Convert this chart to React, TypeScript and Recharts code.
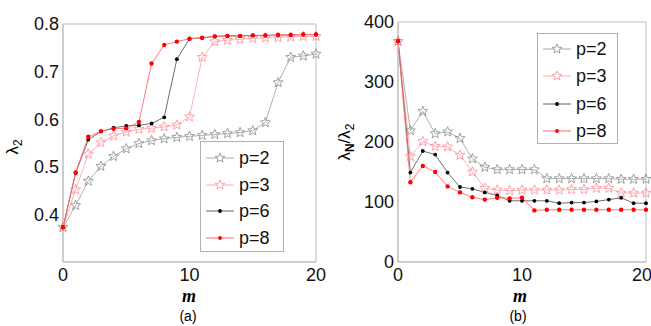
import React from 'react';
import { LineChart, Line, XAxis, YAxis, ReferenceArea } from 'recharts';

const mValues = [0, 1, 2, 3, 4, 5, 6, 7, 8, 9, 10, 11, 12, 13, 14, 15, 16, 17, 18, 19, 20];

// (a) lambda_2
const p2A = [0.373, 0.419, 0.470, 0.501, 0.522, 0.538, 0.549, 0.555, 0.559, 0.562, 0.564, 0.566, 0.568, 0.570, 0.572, 0.576, 0.593, 0.677, 0.730, 0.733, 0.737];
const p3A = [0.373, 0.452, 0.527, 0.551, 0.565, 0.573, 0.579, 0.581, 0.584, 0.588, 0.605, 0.730, 0.763, 0.766, 0.768, 0.770, 0.771, 0.772, 0.773, 0.774, 0.774];
const p6A = [0.373, 0.487, 0.557, 0.574, 0.582, 0.586, 0.587, 0.591, 0.604, 0.726, 0.769, 0.771, 0.774, 0.775, 0.775, 0.776, 0.776, 0.777, 0.777, 0.778, 0.778];
const p8A = [0.373, 0.488, 0.563, 0.575, 0.580, 0.581, 0.594, 0.717, 0.756, 0.763, 0.769, 0.771, 0.774, 0.775, 0.775, 0.776, 0.776, 0.777, 0.777, 0.778, 0.778];

// (b) lambda_N / lambda_2
const p2B = [368, 219, 251, 214, 217, 206, 172, 158, 154, 154, 154, 154, 139, 139, 139, 139, 139, 139, 138, 138, 138];
const p3B = [368, 176, 201, 193, 192, 178, 150, 123, 120, 119, 120, 120, 120, 120, 121, 121, 123, 123, 115, 115, 115];
const p6B = [368, 149, 185, 179, 149, 125, 122, 116, 111, 102, 102, 102, 102, 98, 99, 99, 101, 104, 107, 98, 98];
const p8B = [368, 133, 160, 150, 126, 116, 108, 104, 107, 106, 107, 86, 87, 87, 87, 87, 87, 87, 87, 87, 87];

const seriesNames = ['p=2', 'p=3', 'p=6', 'p=8'];
const xTicks = [0, 10, 20];
const yTicksA = [0.4, 0.5, 0.6, 0.7, 0.8];
const yTicksB = [0, 100, 200, 300, 400];

const buildRows = (a: number[], b: number[], c: number[], d: number[]) =>
  mValues.map((m, i) => ({ m, p2: a[i], p3: b[i], p6: c[i], p8: d[i] }));

const rowsA = buildRows(p2A, p3A, p6A, p8A);
const rowsB = buildRows(p2B, p3B, p6B, p8B);

const starPoints = (cx: number, cy: number, R: number, r: number) => {
  const pts: string[] = [];
  for (let k = 0; k < 10; k++) {
    const ang = -Math.PI / 2 + (k * Math.PI) / 5;
    const rad = k % 2 === 0 ? R : r;
    pts.push(`${(cx + rad * Math.cos(ang)).toFixed(2)},${(cy + rad * Math.sin(ang)).toFixed(2)}`);
  }
  return pts.join(' ');
};

const makeStar = (color: string) => (props: any) => {
  const { cx, cy, index } = props;
  if (cx == null || cy == null) return <g key={`s${index}`} />;
  return <polygon key={`s${index}`} points={starPoints(cx, cy, 5.2, 2.3)} fill="none" stroke={color} strokeWidth={0.8} />;
};

const makeDot = (color: string, r: number) => (props: any) => {
  const { cx, cy, index } = props;
  if (cx == null || cy == null) return <g key={`d${index}`} />;
  return <circle key={`d${index}`} cx={cx} cy={cy} r={r} fill={color} stroke="none" />;
};

const styles = [
  { key: 'p2', line: '#a8a8a8', mark: '#8a8a8a', kind: 'star' },
  { key: 'p3', line: '#ffa8b0', mark: '#ff8a94', kind: 'star' },
  { key: 'p6', line: '#606060', mark: '#000000', kind: 'dot' },
  { key: 'p8', line: '#ff6a6a', mark: '#ff0000', kind: 'dot' },
];

const tickStyle = { fontFamily: '"Liberation Sans", Arial, sans-serif', fontSize: 18, fill: '#111' };

const renderLines = () =>
  styles.map((s) => (
    <Line
      key={s.key}
      dataKey={s.key}
      type="linear"
      stroke={s.line}
      strokeWidth={0.9}
      isAnimationActive={false}
      dot={s.kind === 'star' ? makeStar(s.mark) : makeDot(s.mark, s.key === 'p8' ? 2.2 : 1.9)}
      activeDot={false}
    />
  ));

const LegendBox = ({ left, top, width, height, spacing, first }: any) => (
  <div
    style={{
      position: 'absolute', left, top, width, height, boxSizing: 'border-box',
      border: '1px solid #b0b0b0', background: '#fff',
    }}
  >
    {styles.map((s, i) => (
      <div key={s.key} style={{ position: 'absolute', left: 5, top: first + i * spacing - 10, height: 20, display: 'flex', alignItems: 'center' }}>
        <svg width={28} height={20}>
          <line x1={0} y1={10} x2={28} y2={10} stroke={s.line} strokeWidth={1} />
          {s.kind === 'star' ? (
            <polygon points={starPoints(14, 10, 5, 2.2)} fill="#fff" stroke={s.mark} strokeWidth={0.8} />
          ) : (
            <circle cx={14} cy={10} r={1.9} fill={s.mark} />
          )}
        </svg>
        <span style={{ marginLeft: 5, fontFamily: '"Liberation Sans", Arial, sans-serif', fontSize: 18, color: '#111', lineHeight: '20px' }}>
          {seriesNames[i]}
        </span>
      </div>
    ))}
  </div>
);

const Txt = ({ x, y, children, style }: any) => (
  <div style={{ position: 'absolute', left: x, top: y, transform: 'translate(-50%, -50%)', whiteSpace: 'nowrap', lineHeight: 1, ...style }}>
    {children}
  </div>
);

export default function App() {
  return (
    <div style={{ position: 'absolute', left: 0, top: 0, width: 651, height: 326, background: '#fff', overflow: 'hidden' }}>
      <div style={{ position: 'absolute', left: 0, top: 0 }}>
        <LineChart width={330} height={326} data={rowsA} margin={{ top: 24, right: 14, bottom: 0, left: 0 }}>
          <XAxis dataKey="m" type="number" domain={[0, 20]} ticks={xTicks} height={64} tickLine={false} tickSize={4} tickMargin={2} axisLine={{ stroke: '#bdbdbd' }} tick={tickStyle} />
          <YAxis type="number" domain={[0.3, 0.8]} ticks={yTicksA} width={63} tickLine={false} tickSize={2} tickMargin={2} axisLine={{ stroke: '#bdbdbd' }} tick={tickStyle} tickFormatter={(v: number) => v.toFixed(1)} />
          <ReferenceArea x1={0} x2={20} y1={0.3} y2={0.8} fill="none" stroke="#bdbdbd" strokeWidth={1} ifOverflow="visible" />
          {renderLines()}
        </LineChart>
      </div>
      <div style={{ position: 'absolute', left: 330, top: 0 }}>
        <LineChart width={321} height={326} data={rowsB} margin={{ top: 22, right: 5, bottom: 0, left: 0 }}>
          <XAxis dataKey="m" type="number" domain={[0, 20]} ticks={xTicks} height={64} tickLine={false} tickSize={4} tickMargin={2} axisLine={{ stroke: '#bdbdbd' }} tick={tickStyle} />
          <YAxis type="number" domain={[0, 400]} ticks={yTicksB} width={68} tickLine={false} tickSize={2} tickMargin={2} axisLine={{ stroke: '#bdbdbd' }} tick={tickStyle} />
          <ReferenceArea x1={0} x2={20} y1={0} y2={400} fill="none" stroke="#bdbdbd" strokeWidth={1} ifOverflow="visible" />
          {renderLines()}
        </LineChart>
      </div>

      <LegendBox left={200} top={141} width={84} height={111} spacing={26.7} first={16} />
      <LegendBox left={537} top={33} width={81} height={111} spacing={27.3} first={15} />

      <Txt x={14} y={147} style={{ transform: 'translate(-50%, -50%) rotate(-90deg)', fontFamily: '"Liberation Sans", Arial, sans-serif', fontSize: 17 }}>
        λ<sub style={{ fontSize: 12 }}>2</sub>
      </Txt>
      <Txt x={346} y={142} style={{ transform: 'translate(-50%, -50%) rotate(-90deg)', fontFamily: '"Liberation Sans", Arial, sans-serif', fontSize: 17 }}>
        λ<sub style={{ fontSize: 12, fontWeight: 'bold' }}>N</sub>/λ<sub style={{ fontSize: 12 }}>2</sub>
      </Txt>

      <Txt x={189} y={296} style={{ fontFamily: '"Liberation Serif", "Times New Roman", serif', fontWeight: 'bold', fontStyle: 'italic', fontSize: 18 }}>m</Txt>
      <Txt x={188} y={316} style={{ fontFamily: '"Liberation Sans", Arial, sans-serif', fontSize: 14 }}>(a)</Txt>
      <Txt x={520} y={296} style={{ fontFamily: '"Liberation Serif", "Times New Roman", serif', fontWeight: 'bold', fontStyle: 'italic', fontSize: 18 }}>m</Txt>
      <Txt x={518} y={316} style={{ fontFamily: '"Liberation Sans", Arial, sans-serif', fontSize: 14 }}>(b)</Txt>
    </div>
  );
}
